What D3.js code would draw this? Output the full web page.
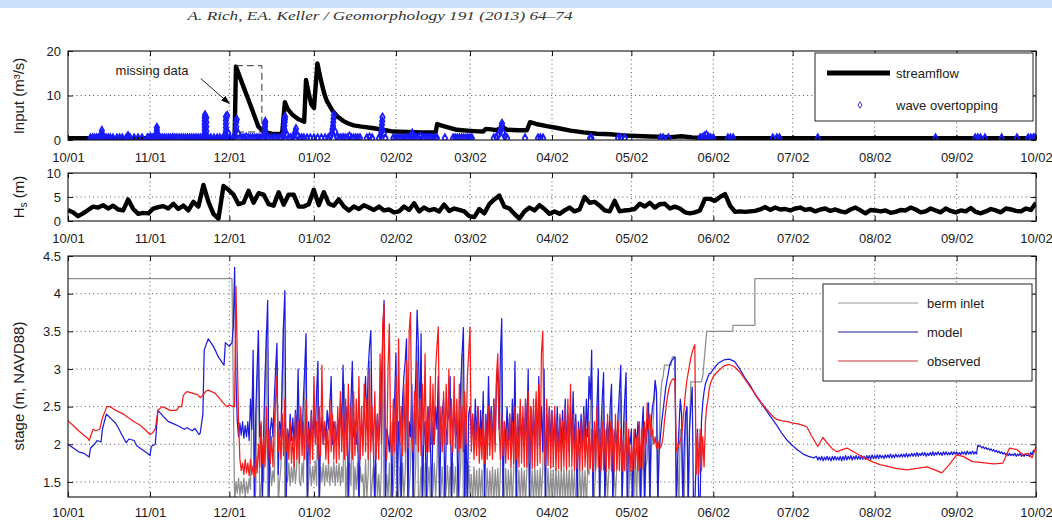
<!DOCTYPE html>
<html lang="en">
<head>
<meta charset="UTF-8">
<title>Lagoon stage, streamflow and waves</title>
<script src="https://cdn.jsdelivr.net/npm/d3@7/dist/d3.min.js"></script>
<style>
  body { margin: 0; background: #fff; }
  svg { display: block; font-family: 'Liberation Sans', Arial, sans-serif; }
  .tick text { font-size: 13px; fill: #1a1a1a; }
  .tick line { stroke: #111; }
  .grid line { stroke: #222; stroke-dasharray: 1 3.2; opacity: .75; }
  .frame { fill: none; stroke: #111; stroke-width: 1.1; }
  .lbl { font-size: 13px; fill: #1a1a1a; }
</style>
</head>
<body>
<svg id="chart" width="1052" height="521"></svg>
<script>
// ---- data (day = days after 10/01) ----
const tickLabels = ["2008-10-01","2008-11-01","2008-12-01","2009-01-02","2009-02-02","2009-03-02",
  "2009-04-02","2009-05-02","2009-06-02","2009-07-02","2009-08-02","2009-09-02","2009-10-02"];

const flowTicks = [0, 10, 20];
const hsTicks = [0, 5, 10];
const stageTicks = [1.5, 2, 2.5, 3, 3.5, 4, 4.5];

// streamflow [day, m3/s]
const streamflow = [[0,.4],[63,.4],[63.5,16.5],[66,12.5],[69,7.8],[72,3],[74,1.8],[77,1.4],[80,1.3],[81,1.7],
  [82,8.5],[83,7],[85,5.6],[87,4.7],[89.3,4.1],[90,13.5],[91,10.5],[92,8],[93,7.2],[94.3,17.2],[95,15.2],
  [96,12.5],[97,10.2],[98,8.6],[100,6.6],[102,5.2],[104,4.3],[106,3.7],[108,3.3],[111,3],[115,2.7],[119,2.3],
  [123,1.9],[128,1.8],[134,1.7],[139,1.7],[139.6,3.6],[141,3.3],[144,2.8],[147,2.3],[151,2.1],[155,1.95],
  [157,1.9],[158,2.5],[160,2.4],[162,2.2],[164.3,2.9],[166,2.3],[170,2.2],[173.5,2.2],[174.7,4],[177,3.6],
  [181,3.1],[185,2.7],[190,2.1],[195,1.7],[200,1.4],[205,1.3],[210,1.05],[215,.9],[220,.8],[228,.65],
  [232,.85],[236,.6],[242,.45],[250,.4],[265,.4],[300,.4],[366,.4]];

// missing data bracket [startDay, endDay, top, bottom]
const missing = [63.5, 73.3, 16.7, 1.8];

// wave overtopping [day, m3/s]
const overtopping = [
  [8.5,.4],[9.3,.4],[10,.4],[10.8,.4],[11.5,.4],[12.2,.4],[12.8,.4],[12.8,.9],[12.8,1.4],[12.8,2.1],[13.3,.8],
  [13.6,.4],[14.4,.4],[15.2,.4],[16,.4],[17,.4],[18.5,.4],[19.5,.4],[20.5,.4],[22,.4],[22.7,.5],[22.7,.9],
  [23.5,.4],[25,.4],[26.5,.4],[28,.4],
  [30,.4],[30.6,.4],[31.2,.6],[31.8,.4],[32.4,.4],[33,.8],[33.6,.4],[33.6,1],[33.6,1.6],[33.6,2.2],[33.6,2.8],
  [34.2,.9],[34.8,.4],[35.6,.4],[36.4,.4],[37.2,.4],[38,.4],[38.8,.4],[39.6,.5],[40.4,.4],[41.2,.4],[42,.4],
  [42.8,.4],[43.6,.4],[44.4,.4],[45.2,.4],[46,.4],[46.8,.4],[47.6,.4],[48.4,.4],[49.2,.4],[50,.4],[50.8,.4],
  [51.5,.8],[51.7,1.5],[51.7,2.2],[51.7,2.9],[51.7,3.6],[51.7,4.3],[51.7,5],[51.8,5.6],[52.3,1],[52.3,2],
  [52.3,3],[52.3,4],[52.3,5],[53,.4],[54,.4],[55.2,.4],[56.4,.4],[57.4,.4],[58.6,.4],[59.2,1],[59.7,.4],
  [59.7,1.2],[59.7,2],[59.7,2.8],[59.7,3.6],[59.7,4.4],[59.7,5.2],[60.2,5.5],[60.6,1.5],[61.2,.4],
  [62.4,.4],[63,1],[63.4,2],[63.6,3],[63.6,4],[63.8,4.6],[64.3,1.5],[65,.4],[65.8,.4],[66.6,.4],[67.4,.6],
  [68.2,.4],[69,.4],[69.8,.4],[70.6,.4],[71.4,.4],[72.2,.4],[73,.4],[73.8,.4],[74.5,.9],[74.5,1.6],[74.5,2.3],
  [74.5,3],[74.5,3.6],[74.6,4.1],[75.3,.6],[76,.4],[77,.4],[78,.4],[79,.4],[80,.4],[80.8,.4],[81.5,.8],
  [81.7,1.6],[81.8,2.4],[81.8,3.2],[81.9,4],[82,4.6],[82.1,5.2],[82.7,1.2],[83.4,.4],[84.2,.4],[85,.6],
  [85.6,1.2],[86,1.8],[86.2,2.5],[86.8,.9],[87.6,.4],[88.4,.4],[89.2,.4],[90.4,.4],[91.6,.4],[93,.4],[94.4,.4],
  [95.8,.4],[97.2,.4],[98.4,.4],[99.2,.8],[99.8,1.6],[100,2.4],[100.2,3.2],[100.3,4],[100.4,4.8],[100.5,5.6],
  [101,1.8],[101.7,.6],[102.4,.4],[103.2,.4],[104,.5],[104.8,.4],[105.6,.4],[106.4,.8],[107.2,.4],[108,.4],
  [108.8,.4],[109.6,.4],[110.4,.4],[113,.4],[114,.6],[115,.4],
  [117.6,.4],[118.2,1],[118.5,1.8],[118.6,2.6],[118.7,3.4],[118.8,4.2],[118.9,5.1],[119.4,1.5],[120,.4],
  [123,.4],[123.8,.4],[124.6,.4],[125.4,.4],[126.2,.4],[127,.4],[127.8,.4],[128.6,.4],[129.4,.6],[130,1],
  [130.2,1.5],[130.8,.6],[131.6,.4],[132.4,.4],[133.2,.7],[134,.4],[134.8,.4],[135.6,.4],[136.4,.4],
  [137.2,.4],[138,.4],[138.8,.4],[139.5,.4],[142.5,.4],[145.6,.4],[146.4,.4],[147.2,.4],[148,.4],[148.8,.4],
  [149.6,.4],[150.4,.4],[151.2,.4],[152,.4],[152.7,.4],
  [161,.4],[162,.6],[162.8,1.2],[163.4,1.9],[163.8,2.6],[164,3.2],[164.1,3.7],[164.6,1.5],[165.2,.8],[166,.4],
  [172.8,.4],[177.7,.4],[178.6,.4],[179.6,.4],[197.4,.4],[197.9,.4],[208,.4],[209,.4],[210.5,.4],[224,.4],
  [225,.4],[227,.4],[239,.4],[239.8,.5],[240.6,.8],[241.4,1.1],[242.2,.6],[243,.4],[244,.4],[249.5,.4],
  [250.5,.4],[251.5,.4],[266.5,.4],[268,.4],[269,.4],[283.5,.4],[328,.4],[343,.4],[344,.4],[345,.4],
  [346.7,.4],[353,.4],[358.8,.4],[363,.4],[364,.4],[365,.4],[365.6,.4]];

// significant wave height, sampled evenly over the year
const hs = [2.3,1.8,1.0,1.6,2.3,3.0,2.8,3.3,2.6,3.2,2.4,2.2,4.5,2.5,1.5,1.7,1.6,2.6,2.9,3.1,2.6,3.6,2.5,3.2,
  2.2,4.0,3.0,7.5,4.0,1.5,0.5,7.3,6.5,5.5,3.5,3.8,6.3,3.8,5.8,5.5,3.5,3.2,6.0,3.4,5.5,5.5,3.0,3.0,3.5,6.5,
  3.3,6.0,3.6,3.2,4.5,3.0,2.2,3.0,2.5,3.3,2.8,2.3,3.0,2.2,2.4,1.8,2.0,3.0,2.3,3.7,2.0,2.8,2.2,2.5,2.0,3.4,
  2.1,2.6,2.3,2.0,1.0,0.8,2.5,1.6,3.5,4.5,5.3,3.0,2.6,1.5,0.5,2.0,2.8,2.2,3.3,2.5,1.5,2.0,1.5,2.2,2.8,2.0,
  2.4,5.0,3.8,4.0,3.2,2.2,2.0,4.2,2.0,2.2,2.3,2.5,3.6,3.0,3.8,2.8,3.5,3.6,2.6,3.0,2.6,1.8,1.6,1.8,2.2,4.6,
  4.6,4.2,5.0,5.6,3.2,1.9,2.0,1.9,2.0,2.1,2.4,2.9,2.3,2.8,2.4,2.5,2.2,2.6,2.8,2.3,2.5,2.0,2.4,2.6,2.1,2.4,
  2.0,1.8,2.4,2.8,2.2,1.6,2.3,2.2,2.0,2.2,1.7,1.9,2.3,2.2,2.8,2.4,1.8,2.0,2.6,2.2,1.8,2.6,2.1,1.8,2.2,2.0,
  2.7,1.9,1.6,2.0,2.5,2.2,1.8,2.6,2.4,2.1,2.0,2.6,2.3,3.8];

// stage: smooth parts [day, m]
const bermPre = [[0,4.2],[62,4.2]];
const bermPost = [[243,3.5],[251.4,3.5],[251.4,3.58],[259.7,3.58],[259.7,4.2],[366,4.2]];
const modelPre = [[0,2.0],[2,1.95],[4,1.9],[6,1.88],[8,1.83],[8.5,1.95],[10,2.0],[11,2.05],[12.5,2.03],[13,2.2],
  [14.5,2.4],[16,2.35],[18,2.28],[19,2.22],[20,2.15],[22,2.02],[23,2.07],[25,2.05],[26,1.98],[28,1.93],
  [30,1.88],[31,1.85],[31.5,1.97],[33,2.0],[34,2.45],[36,2.37],[38,2.3],[40,2.27],[42,2.24],[44,2.2],
  [45,2.22],[47,2.18],[48,2.21],[49.5,2.13],[50,2.15],[51,2.4],[51.5,3.25],[53,3.4],[55,3.3],[57,3.15],
  [59,3.05],[59.5,3.35],[61,3.3],[62,3.35],[62.5,3.55]];
const modelPost = [[243,2.94],[244,3.0],[246,3.08],[248,3.12],[250,3.13],[252,3.1],[254,3.0],[256,2.88],
  [258,2.78],[260,2.65],[262,2.55],[264,2.45],[266,2.35],[268,2.25],[270,2.14],[272,2.05],[274,1.98],
  [276,1.92],[278,1.87],[280,1.84],[282,1.82]];
const obsPre = [[0,2.31],[2,2.25],[4,2.18],[6,2.12],[7.5,2.08],[8,2.05],[9.5,2.2],[10.5,2.18],[12,2.2],[13,2.35],
  [14.7,2.5],[16,2.5],[18,2.45],[21,2.4],[23,2.35],[25,2.3],[27,2.26],[29,2.2],[31,2.13],[32,2.15],[33,2.2],
  [34,2.45],[35.5,2.5],[37,2.48],[38.5,2.45],[41,2.45],[42,2.5],[43,2.5],[43.6,2.65],[45,2.7],[47,2.68],
  [49,2.66],[50,2.62],[51,2.65],[52,2.7],[53,2.72],[55.6,2.68],[57.5,2.6],[58.7,2.55],[60,2.5],[61,2.52],
  [62.5,2.5]];
const obsPost = [[243,2.82],[244,2.9],[246,2.98],[248,3.04],[250,3.06],[252,3.03],[254,2.96],[256,2.86],
  [258,2.76],[260,2.66],[262,2.56],[264,2.47],[266.5,2.37],[268,2.33],[270,2.31],[272,2.3],[274,2.28],
  [276,2.27],[278,2.25],[279.4,2.23],[281,2.12],[283.5,1.97],[285.4,2.09],[287,2.02],[289,1.94],[290.7,1.9],
  [292,1.92],[294.5,1.95],[297.5,1.89],[300,1.84],[304,1.77],[307,1.73],[309.6,1.71],[313,1.68],[317,1.66],
  [321,1.68],[324.8,1.7],[327,1.67],[330.4,1.62],[333,1.72],[336,1.86],[338.4,1.84],[342,1.77],[345,1.76],
  [347.4,1.75],[350,1.74],[353.5,1.75],[356,1.95],[358.8,1.93],[361,1.86],[363,1.88],[364.5,1.82],[366,1.97]];

// stage: tidal part, two readings per day from 12/03 (day 63) to 05/31 (day 242)
const denseStart = 63;
const modelDense = [
  [4.35,2.9],[2.3,2.1],[2.28,2.12],[2.3,2.08],[2.25,2.1],[2.3,2.05],[2.6,2.2],[3.25,1.2],[2.4,3.0],[3.51,2.1],
  [2.25,1.2],[2.2,2.9],[3.4,3.91],[1.2,2.2],[2.35,2.1],[2.6,3.0],[3.34,1.6],[2.3,2.1],[2.9,3.6],[4.04,1.2],
  [2.2,2.0],[2.4,2.05],[2.35,2.0],[2.45,2.1],[3.0,2.05],[2.4,2.0],[2.6,3.0],[3.47,1.2],[2.3,2.0],[2.45,2.05],
  [2.4,2.1],[2.7,3.1],[1.2,2.1],[2.35,2.0],[2.3,2.05],[2.45,2.2],[2.5,2.9],[2.0,2.3],[2.2,2.05],[2.35,2.1],
  [2.6,2.2],[3.05,2.1],[2.3,2.5],[1.2,2.2],[2.6,3.1],[2.1,2.3],[2.0,2.25],[1.2,2.1],[2.3,2.0],[2.5,2.9],
  [2.2,3.0],[3.3,3.51],[2.2,2.0],[1.2,2.1],[2.4,2.05],[2.3,2.8],[3.4,3.91],[1.2,2.2],[2.1,1.9],[2.3,1.2],
  [2.2,2.6],[3.21,1.2],[2.3,2.0],[1.2,2.6],[2.9,3.1],[3.4,1.2],[2.3,2.1],[2.8,1.2],[2.4,2.9],[3.78,3.3],
  [2.2,3.47],[1.2,2.1],[2.3,1.2],[2.2,2.5],[2.1,1.2],[2.3,2.0],[2.5,2.2],[2.9,1.2],[2.2,2.4],[2.6,1.2],
  [2.1,2.3],[2.4,2.9],[1.2,2.2],[2.5,2.1],[2.3,1.2],[2.2,2.8],[3.2,3.55],[1.2,2.3],[1.2,2.4],[2.5,2.1],
  [2.4,2.0],[2.6,2.1],[2.5,1.95],[2.45,2.05],[2.7,1.2],[2.4,2.0],[2.9,2.1],[2.5,1.95],[2.6,2.0],[2.8,3.0],
  [2.2,3.2],[3.67,1.2],[2.3,2.0],[2.5,2.05],[2.4,1.95],[2.6,2.0],[3.1,1.2],[2.4,2.0],[2.5,2.05],[2.35,1.95],
  [2.6,2.1],[3.0,1.2],[2.5,2.0],[2.45,2.0],[2.6,1.95],[2.9,2.0],[2.5,1.9],[3.0,1.2],[2.4,2.0],[2.5,2.05],
  [2.45,1.95],[2.4,2.0],[2.5,1.9],[2.35,2.0],[2.45,1.95],[2.6,2.0],[2.4,1.9],[2.5,2.0],[2.7,1.95],[2.4,1.2],
  [2.3,2.0],[2.4,1.95],[2.5,2.0],[2.6,2.1],[2.9,2.6],[3.25,1.2],[2.2,2.0],[2.5,3.0],[1.2,2.2],[2.6,2.95],
  [1.2,2.1],[2.3,2.0],[2.5,2.8],[1.2,2.1],[2.2,1.95],[2.4,2.7],[3.05,1.2],[2.2,2.6],[2.95,1.2],[2.1,2.0],
  [2.2,1.2],[2.0,2.2],[1.95,2.3],[2.1,1.2],[2.2,2.5],[1.2,2.0],[2.2,2.55],[1.2,2.3],[2.5,2.6],[2.85,2.7],
  [1.2,1.9],[2.1,2.3],[2.45,2.6],[2.75,2.85],[2.95,3.05],[3.1,3.12],[3.14,3.16],[1.2,1.8],[2.2,2.6],[2.4,1.2],
  [2.0,2.4],[2.5,1.2],[2.2,2.5],[2.76,1.2],[1.2,1.8],[2.2,1.2],[1.2,2.3],[2.55,2.7],[2.8,2.85],[2.9,2.94]];
const obsDense = [
  [2.5,4.1],[3.2,2.3],[1.8,1.65],[1.75,1.6],[1.8,1.62],[1.75,1.58],[1.8,1.6],[1.72,1.57],[1.85,1.62],[2.0,1.7],
  [2.3,1.75],[2.1,1.7],[2.5,1.8],[2.2,1.75],[2.1,1.7],[2.3,2.6],[2.9,1.9],[2.2,1.8],[2.4,1.85],[2.6,1.9],
  [2.2,1.8],[2.3,1.75],[2.1,1.7],[2.4,1.8],[2.3,1.75],[2.5,1.85],[2.3,1.8],[2.6,1.9],[2.2,1.75],[2.4,1.8],
  [2.9,2.0],[2.3,1.8],[2.5,1.85],[3.05,2.0],[2.3,1.8],[2.2,1.75],[2.6,1.9],[2.4,1.8],[2.3,1.75],[2.5,1.8],
  [2.7,1.9],[2.4,1.8],[2.6,1.85],[2.8,1.9],[2.5,1.8],[2.7,1.85],[2.6,1.9],[2.9,1.8],[2.5,1.85],[2.8,1.9],
  [2.6,1.8],[3.0,1.9],[2.5,1.85],[2.7,1.8],[2.4,1.8],[3.2,2.0],[3.6,3.85],[2.2,1.8],[3.0,3.6],[2.0,1.85],
  [2.6,1.9],[2.9,2.0],[3.4,2.0],[2.5,1.85],[2.8,1.9],[3.1,1.95],[3.5,3.75],[2.1,1.9],[2.7,2.0],[3.1,1.9],
  [2.6,1.85],[2.8,2.0],[3.2,1.9],[2.5,1.9],[2.9,2.0],[2.8,2.0],[3.0,3.3],[3.56,1.95],[2.5,1.9],[2.7,2.0],
  [2.8,2.0],[3.0,2.0],[2.6,1.9],[2.9,1.95],[2.6,1.9],[2.8,1.95],[2.5,1.9],[2.7,2.0],[2.9,3.2],[3.56,1.9],
  [2.4,1.8],[2.3,1.85],[2.5,1.75],[2.2,1.8],[2.4,1.75],[2.3,1.8],[2.5,1.85],[2.4,1.8],[2.6,1.9],[2.9,3.2],
  [2.2,1.8],[2.4,1.85],[2.3,1.75],[2.2,1.8],[2.4,1.7],[2.3,1.75],[2.5,1.8],[2.4,1.7],[2.6,1.75],[2.5,1.7],
  [2.6,1.7],[2.7,1.75],[2.5,1.68],[2.6,1.7],[2.7,1.72],[2.8,1.75],[3.2,3.5],[2.0,1.7],[2.6,1.72],[2.5,1.68],
  [2.4,1.7],[2.5,1.65],[2.3,1.68],[2.4,1.65],[2.3,1.7],[2.5,1.66],[2.6,1.7],[2.8,1.7],[2.4,1.65],[2.3,1.68],
  [2.2,1.65],[2.3,1.66],[2.4,1.7],[2.2,1.65],[2.3,1.68],[2.2,1.64],[2.3,1.66],[2.5,1.7],[2.2,1.65],[2.3,1.66],
  [2.2,1.64],[2.4,1.68],[2.3,1.65],[2.2,1.64],[2.4,1.66],[2.3,1.65],[2.2,1.64],[2.1,1.65],[2.3,1.66],[2.2,1.64],
  [2.0,1.66],[2.2,1.68],[2.1,1.65],[2.3,1.7],[2.2,1.66],[2.3,2.0],[2.55,2.2],[2.4,2.1],[2.2,2.0],[2.1,1.95],
  [2.05,1.95],[1.95,2.0],[2.1,2.3],[2.45,2.6],[2.7,2.78],[2.83,2.86],[2.87,2.85],[1.9,1.95],[2.0,2.05],[2.1,2.3],
  [2.5,2.7],[2.85,2.95],[3.05,3.15],[3.22,3.28],[3.32,1.6],[2.15,1.6],[2.2,1.65],[2.1,1.7],[2.3,2.5],[2.6,2.75]];
const bermDense = [
  [1.2,1.5],[1.35,1.55],[1.32,1.5],[1.35,1.55],[1.3,1.5],[1.35,1.55],[1.4,2.4],[3.0,1.2],[1.4,2.8],[3.2,1.2],
  [1.45,1.6],[1.5,2.6],[3.5,1.2],[1.5,1.7],[1.45,1.65],[1.5,2.5],[3.1,1.2],[1.5,1.7],[2.8,3.6],[1.2,1.6],
  [1.5,1.75],[1.45,1.7],[1.5,1.78],[1.48,1.72],[2.6,1.5],[1.45,1.75],[1.5,2.7],[3.2,1.2],[1.5,1.75],[1.45,1.7],
  [1.5,1.78],[1.45,2.8],[1.2,1.7],[1.5,1.75],[1.45,1.72],[1.5,1.76],[1.45,1.7],[1.5,1.78],[1.45,1.72],[1.5,1.75],
  [1.45,1.7],[1.5,2.8],[1.2,1.7],[1.2,1.75],[1.45,2.9],[1.2,1.7],[1.4,1.75],[1.2,1.7],[1.5,1.6],[1.2,1.8],
  [1.3,1.6],[3.1,1.2],[1.5,1.7],[1.2,1.75],[1.3,1.6],[1.2,1.7],[3.4,1.2],[1.2,1.6],[1.3,1.75],[1.2,1.2],
  [1.4,1.75],[2.9,1.2],[1.3,1.7],[1.2,1.75],[1.3,1.6],[3.1,1.2],[1.4,1.7],[2.5,1.2],[1.3,1.75],[3.3,1.2],
  [1.3,1.7],[1.2,1.75],[1.3,1.2],[1.4,1.7],[1.3,1.2],[1.4,1.75],[1.3,1.7],[2.5,1.2],[1.35,1.7],[1.3,1.2],
  [1.4,1.72],[1.3,1.7],[1.2,1.75],[1.35,1.7],[1.3,1.2],[1.4,1.75],[3.2,1.2],[1.2,1.7],[1.2,1.72],[1.35,1.6],
  [1.2,1.7],[1.3,1.65],[1.2,1.68],[1.3,1.66],[1.2,1.2],[1.3,1.68],[1.2,1.65],[1.3,1.7],[1.2,1.66],[1.3,1.68],
  [1.2,1.65],[3.3,1.2],[1.3,1.68],[1.2,1.66],[1.3,1.7],[1.2,1.65],[2.8,1.2],[1.3,1.66],[1.2,1.68],[1.3,1.65],
  [1.2,1.68],[2.7,1.2],[1.3,1.66],[1.2,1.7],[1.3,1.65],[1.2,1.68],[1.3,1.66],[2.6,1.2],[1.3,1.68],[1.2,1.65],
  [1.3,1.66],[1.2,1.68],[1.3,1.65],[1.2,1.66],[1.3,1.68],[1.2,1.65],[1.3,1.66],[1.2,1.68],[1.3,1.65],[1.2,1.2],
  [1.3,1.66],[1.2,1.68],[1.3,1.65],[1.2,1.66],[1.6,2.4],[2.9,1.2],[1.3,1.7],[2.0,2.7],[1.2,1.68],[2.2,2.6],
  [1.2,1.7],[1.3,1.65],[2.0,2.5],[1.2,1.66],[1.3,1.68],[2.0,2.4],[2.7,1.2],[1.8,2.3],[2.6,1.2],[1.3,1.7],
  [1.5,1.2],[1.3,1.9],[1.2,2.0],[1.5,1.2],[1.6,2.2],[1.2,1.7],[1.8,2.3],[1.2,1.9],[2.1,2.5],[2.8,2.7],
  [1.2,2.0],[2.6,2.83],[2.9,3.05],[3.05,3.05],[3.05,3.05],[3.05,3.16],[3.16,3.16],[1.2,1.8],[1.2,2.2],[1.9,1.2],
  [1.2,2.3],[2.5,1.2],[2.2,2.83],[2.83,2.83],[2.83,2.83],[2.83,2.83],[2.83,2.83],[2.9,3.1],[3.3,3.5],[3.5,3.5]];
// model after the inlet closed, two readings per day from day 283
const lateStart = 283;
const modelLate = [
  [1.84,1.79],[1.83,1.79],[1.84,1.78],[1.83,1.79],[1.84,1.79],[1.83,1.78],[1.84,1.79],[1.84,1.79],[1.83,1.79],
  [1.84,1.78],[1.84,1.79],[1.85,1.79],[1.84,1.8],[1.85,1.79],[1.84,1.8],[1.85,1.8],[1.84,1.8],
  [1.85,1.8],[1.84,1.8],[1.85,1.81],[1.85,1.8],[1.86,1.81],[1.85,1.81],[1.86,1.81],[1.86,1.82],[1.85,1.81],
  [1.86,1.82],[1.86,1.82],[1.87,1.82],[1.86,1.82],[1.87,1.83],[1.86,1.83],[1.87,1.83],[1.87,1.83],[1.88,1.83],
  [1.87,1.84],[1.88,1.84],
  [1.88,1.84],[1.89,1.84],[1.88,1.85],[1.89,1.85],[1.89,1.84],[1.88,1.85],[1.89,1.85],[1.9,1.85],[1.89,1.86],
  [1.9,1.86],[1.89,1.85],[1.9,1.86],[1.9,1.86],[1.89,1.86],[1.9,1.86],[1.9,1.87],[1.9,1.86],[1.89,1.86],
  [1.9,1.87],[1.9,1.86],[1.91,1.87],[1.9,1.87],[1.91,1.87],[1.9,1.87],
  [1.99,1.97],[1.98,1.95],[1.97,1.94],[1.96,1.93],[1.95,1.92],[1.94,1.91],[1.93,1.9],[1.92,1.89],[1.91,1.88],
  [1.9,1.87],[1.89,1.86],
  [1.88,1.85],[1.88,1.85],[1.87,1.85],[1.88,1.84],[1.87,1.85],[1.88,1.84],[1.87,1.84],[1.87,1.85],[1.86,1.84],
  [1.89,1.86],[1.92,1.9]];

// ---- layout ----
const svg = d3.select("#chart");
const X0 = 68, X1 = 1036;
const t0 = Date.UTC(2008, 9, 1);
const toDate = d => new Date(t0 + d * 864e5);
const tickDates = tickLabels.map(s => new Date(s + "T00:00:00Z"));

const x = d3.scaleUtc().domain([toDate(0), toDate(366)]).range([X0, X1]);
const yFlow = d3.scaleLinear().domain([0, 20]).range([140, 51]);
const yHs = d3.scaleLinear().domain([0, 10]).range([221, 173]);
const yStage = d3.scaleLinear().domain([1.3, 4.5]).range([497, 256]);

const blue = "#1c1ce0", red = "#f51c1c", grey = "#8e8e8e";

const pairs = (start, arr) => arr.flatMap((p, i) => [[start + i, p[0]], [start + i + 0.5, p[1]]]);

// page header
svg.append("rect").attr("x", 0).attr("y", 0).attr("width", 1052).attr("height", 8).attr("fill", "#c9e1f9");
svg.append("text").attr("x", 380).attr("y", 20).attr("text-anchor", "middle")
  .attr("font-family", "'Liberation Serif', serif").attr("font-style", "italic")
  .attr("font-size", 13).attr("fill", "#333").attr("textLength", 385).attr("lengthAdjust", "spacingAndGlyphs")
  .text("A. Rich, EA. Keller / Geomorphology 191 (2013) 64–74");

function panel(id, y, yTicks, labelPad) {
  const [bottom, top] = y.range();
  const g = svg.append("g");

  svg.append("clipPath").attr("id", id).append("rect")
    .attr("x", X0).attr("y", top).attr("width", X1 - X0).attr("height", bottom - top);

  // dotted grid
  const grid = g.append("g").attr("class", "grid");
  grid.selectAll(".vx").data(tickDates.slice(1, -1)).join("line")
    .attr("x1", d => x(d)).attr("x2", d => x(d)).attr("y1", top).attr("y2", bottom);
  grid.selectAll(".hy").data(yTicks.filter(v => y(v) > top + 1 && y(v) < bottom - 1)).join("line")
    .attr("x1", X0).attr("x2", X1).attr("y1", d => y(d)).attr("y2", d => y(d));

  const fmt = d3.utcFormat("%m/%d");
  g.append("g").attr("transform", `translate(0,${bottom})`)
    .call(d3.axisBottom(x).tickValues(tickDates).tickFormat(fmt).tickSize(-5).tickPadding(labelPad))
    .call(a => a.select(".domain").remove());
  g.append("g").attr("transform", `translate(0,${top})`)
    .call(d3.axisTop(x).tickValues(tickDates).tickFormat("").tickSize(-5))
    .call(a => a.select(".domain").remove());
  g.append("g").attr("transform", `translate(${X0},0)`)
    .call(d3.axisLeft(y).tickValues(yTicks).tickSize(-5).tickPadding(7).tickFormat(d3.format("~g")))
    .call(a => a.select(".domain").remove());
  g.append("g").attr("transform", `translate(${X1},0)`)
    .call(d3.axisRight(y).tickValues(yTicks).tickSize(-5).tickFormat(""))
    .call(a => a.select(".domain").remove());

  g.selectAll(".tick text").attr("font-size", 13).attr("font-family", "'Liberation Sans', Arial, sans-serif");
  return g;
}

function frame(y) {
  const [bottom, top] = y.range();
  svg.append("rect").attr("class", "frame")
    .attr("x", X0).attr("y", top).attr("width", X1 - X0).attr("height", bottom - top);
}

// ---- panel 1: streamflow and overtopping ----
panel("clipFlow", yFlow, flowTicks, 13);
const lineFlow = d3.line().x(d => x(toDate(d[0]))).y(d => yFlow(d[1]));
const pFlow = svg.append("g").attr("clip-path", "url(#clipFlow)");
pFlow.append("path").datum(streamflow).attr("d", lineFlow)
  .attr("fill", "none").attr("stroke", "#000").attr("stroke-width", 4.4).attr("stroke-linejoin", "round");

const diamond = d3.symbol().type(d3.symbolDiamond).size(18);
pFlow.selectAll(".ot").data(overtopping).join("path")
  .attr("transform", d => `translate(${x(toDate(d[0]))},${yFlow(d[1])})`)
  .attr("d", diamond).attr("fill", "none").attr("stroke", "#1a1aff").attr("stroke-width", 1.7);

// missing data bracket
const [mA, mB, mTop, mBot] = missing;
svg.append("path")
  .attr("d", `M${x(toDate(mA))},${yFlow(mTop)}H${x(toDate(mB))}V${yFlow(mBot)}H${x(toDate(mA - 1))}`)
  .attr("fill", "none").attr("stroke", "#333").attr("stroke-width", 1).attr("stroke-dasharray", "7 4");
svg.append("defs").append("marker").attr("id", "arrow").attr("viewBox", "0 0 10 10")
  .attr("refX", 9).attr("refY", 5).attr("markerWidth", 9).attr("markerHeight", 9).attr("orient", "auto")
  .append("path").attr("d", "M0,1.5L10,5L0,8.5Z").attr("fill", "#000");
svg.append("line")
  .attr("x1", x(toDate(50.2))).attr("y1", yFlow(13.8)).attr("x2", x(toDate(61))).attr("y2", yFlow(8.2))
  .attr("stroke", "#222").attr("stroke-width", 1).attr("marker-end", "url(#arrow)");
svg.append("text").attr("class", "lbl").attr("x", x(toDate(18))).attr("y", yFlow(14.6)).text("missing data");
frame(yFlow);

// legend 1
const lg1 = svg.append("g").attr("transform", "translate(815,53)");
lg1.append("rect").attr("width", 218).attr("height", 68).attr("fill", "#fff").attr("stroke", "#222");
lg1.append("line").attr("x1", 12).attr("x2", 75).attr("y1", 20).attr("y2", 20).attr("stroke", "#000").attr("stroke-width", 5);
lg1.append("text").attr("class", "lbl").attr("x", 81).attr("y", 25).text("streamflow");
lg1.append("path").attr("transform", "translate(45,52)").attr("d", d3.symbol().type(d3.symbolDiamond).size(12))
  .attr("fill", "none").attr("stroke", "#3a3ad0").attr("stroke-width", 1);
lg1.append("text").attr("class", "lbl").attr("x", 81).attr("y", 57).text("wave overtopping");

// ---- panel 2: wave height ----
panel("clipHs", yHs, hsTicks, 13);
const hsStep = 366 / (hs.length - 1);
svg.append("g").attr("clip-path", "url(#clipHs)").append("path").datum(hs)
  .attr("d", d3.line().x((d, i) => x(toDate(i * hsStep))).y(d => yHs(d)))
  .attr("fill", "none").attr("stroke", "#000").attr("stroke-width", 4.4).attr("stroke-linejoin", "round");
frame(yHs);

// ---- panel 3: stage ----
panel("clipStage", yStage, stageTicks, 11);
const lineStage = d3.line().x(d => x(toDate(d[0]))).y(d => yStage(d[1]));
const pStage = svg.append("g").attr("clip-path", "url(#clipStage)");
const berm = bermPre.concat(pairs(denseStart, bermDense), bermPost);
const model = modelPre.concat(pairs(denseStart, modelDense), modelPost, pairs(lateStart, modelLate));
const observed = obsPre.concat(pairs(denseStart, obsDense), obsPost);
[[berm, grey], [model, blue], [observed, red]].forEach(([s, c]) => {
  pStage.append("path").datum(s).attr("d", lineStage)
    .attr("fill", "none").attr("stroke", c).attr("stroke-width", 1.25).attr("stroke-linejoin", "round");
});
frame(yStage);

// legend 3
const lg3 = svg.append("g").attr("transform", "translate(823,284)");
lg3.append("rect").attr("width", 209).attr("height", 97).attr("fill", "#fff").attr("stroke", "#222");
[["berm inlet", "#9a9a9a"], ["model", "#1c1c9c"], ["observed", "#c8303a"]].forEach(([t, c], i) => {
  const yy = 19 + i * 29;
  lg3.append("line").attr("x1", 15).attr("x2", 95).attr("y1", yy).attr("y2", yy).attr("stroke", c).attr("stroke-width", 1.1);
  lg3.append("text").attr("class", "lbl").attr("x", 104).attr("y", yy + 5).text(t);
});

// ---- axis titles ----
function yTitle(cx, cy, build) {
  const t = svg.append("text").attr("transform", `translate(${cx},${cy}) rotate(-90)`)
    .attr("text-anchor", "middle").attr("font-size", 15).attr("fill", "#1a1a1a");
  build(t);
}
yTitle(24, 96, t => t.text("Input  (m³/s)"));
yTitle(24, 197, t => {
  t.append("tspan").text("H");
  t.append("tspan").attr("font-size", 10).attr("dy", 3).text("s");
  t.append("tspan").attr("dy", -3).text(" (m)");
});
yTitle(24, 386, t => t.text("stage (m, NAVD88)"));
</script>
</body>
</html>
